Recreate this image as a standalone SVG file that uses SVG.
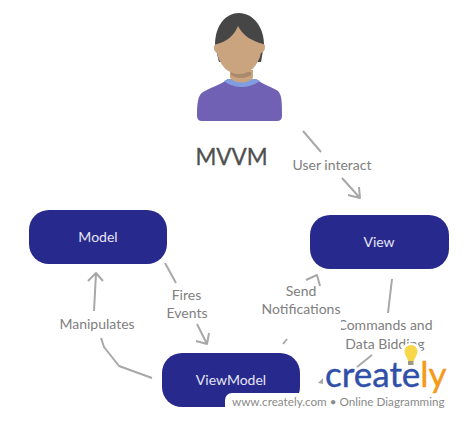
<svg xmlns="http://www.w3.org/2000/svg" width="464" height="421" viewBox="0 0 464 421">
<style>
.node{fill:#28298c}
.nt{font-family:Lato,"Liberation Sans",sans-serif;font-size:14px;fill:#e4e6f6;text-anchor:middle}
.lb{font-family:Lato,"Liberation Sans",sans-serif;font-size:14px;fill:#808080;text-anchor:middle}
.c{fill:none;stroke:#a8a8a8;stroke-width:2;stroke-linejoin:round}
</style>
<rect width="464" height="421" fill="#fff"/>
<g id="person">
<path d="M197 116C197 103 198 95 203 92C212 87 222 84 228 79H256C262 84 272 87 278 91C282 95 282 103 282 116Q282 121 277 121H202Q197 121 197 116Z" fill="#7161b5"/>
<path d="M224 81L228 79H256L260 81C254 85 248 87 242 87C235 87 229 85 224 81Z" fill="#7f9ddf"/>
<path d="M230 70H253V78C248 84 235 84 230 78Z" fill="#c9a47f"/>
<path d="M231 72H251V75C246 79 236 79 231 75Z" fill="#a98a6c"/>
<path d="M215 45C215 25 226 13 239 13C253 13 264 27 264 45L261 62L219 62Z" fill="#464646"/>
<path d="M214 46Q215 44 217 44C226 42 234 36 238 26C243 36 252 41 263 44Q265 44 265 47Q265 52 261 53C258 66 250 74 239 74C228 74 220 66 217 53Q213 51 214 46Z" fill="#c9a47f"/>
</g>
<text id="title" x="231.500" y="165" font-family="Lato,'Liberation Sans',sans-serif" font-size="22.500" fill="#4f4f4f" stroke="#4f4f4f" stroke-width=".3" text-anchor="middle">MVVM</text>
<g id="connectors">
<path class="c" d="M303 131L321 152M342 178L360 198M348 195L360 198L359 187"/>
<path class="c" d="M165 263L176 283M197 324L207 344M196 341L207 344L209 333"/>
<path class="c" d="M94 311L96 273M88 281L96 273L103 281M101 338L104 347L119 366L152 378"/>
<path class="c" d="M283 344L287 339M306 280L317 275L320 286"/>
<path class="c" d="M392 279L388 313M372 355L357 367"/>
<path d="M323 378L323 384L318 383Z" fill="#a8a8a8"/>
</g>
<text class="lb" x="332" y="170">User interact</text>
<text class="lb" x="186.500" y="300">Fires</text>
<text class="lb" x="187" y="318">Events</text>
<text class="lb" x="97" y="329">Manipulates</text>
<text class="lb" x="301" y="296">Send</text>
<text class="lb" x="301" y="314">Notifications</text>
<text class="lb" x="385" y="330">Commands and</text>
<text class="lb" x="385" y="349">Data Bidding</text>
<g id="model"><rect class="node" x="29" y="210" width="138" height="54" rx="20"/><text class="nt" x="98" y="242">Model</text></g>
<g id="view"><rect class="node" x="310" y="215" width="139" height="54" rx="20"/><text class="nt" x="379" y="247">View</text></g>
<g id="viewmodel"><rect class="node" x="162" y="353" width="138" height="54" rx="20"/><text class="nt" x="231" y="385">ViewModel</text></g>
<g id="watermark">
<rect x="336" y="318" width="5" height="16" fill="#fff"/>
<circle cx="411" cy="354" r="11" fill="#fff"/>
<rect x="225" y="393" width="260" height="40" rx="7" fill="#fff"/>
<path d="M405 354a6.500 6.500 0 1 1 12 0c-1 3-2.500 4-3 7h-6c-.5-3-2-4-3-7Z" fill="#f8d84a"/>
<rect x="408" y="361" width="5.500" height="4" fill="#9a9a80"/>
<text x="325" y="387" font-family="Lato,'Liberation Sans',sans-serif" font-size="35" fill="#2f4fa8" stroke="#2f4fa8" stroke-width=".4">create<tspan fill="#f49a16" stroke="#f49a16">ly</tspan></text>
<text x="232" y="406" font-family="Lato,'Liberation Sans',sans-serif" font-size="11.700" fill="#8a8a8a">www.creately.com • Online Diagramming</text>
</g>
</svg>
